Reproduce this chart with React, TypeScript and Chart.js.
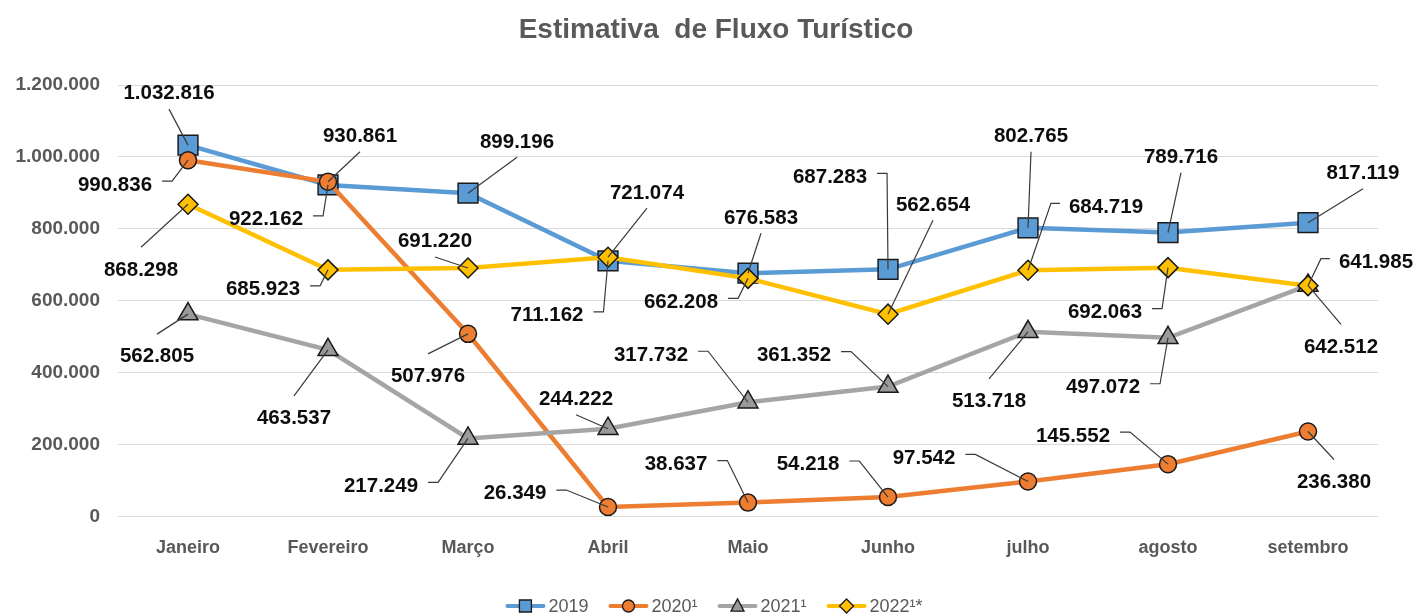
import React, { useEffect, useRef } from 'react';
import { Chart, registerables } from 'chart.js';

Chart.register(...registerables);

// ---------- data ----------
const categories = ['Janeiro', 'Fevereiro', 'Março', 'Abril', 'Maio', 'Junho', 'julho', 'agosto', 'setembro'];
const values2019 = [1032816, 922162, 899196, 711162, 676583, 687283, 802765, 789716, 817119];
const values2020 = [990836, 930861, 507976, 26349, 38637, 54218, 97542, 145552, 236380];
const values2021 = [562805, 463537, 217249, 244222, 317732, 361352, 513718, 497072, 642512];
const values2022 = [868298, 685923, 691220, 721074, 662208, 562654, 684719, 692063, 641985];
const seriesNames = ['2019', '2020¹', '2021¹', '2022¹*'];
const chartTitle = 'Estimativa  de Fluxo Turístico';
const yMin = 0;
const yMax = 1200000;
const yStep = 200000;

// ---------- styles ----------
const lineColors = ['#5B9BD5', '#ED7D31', '#A5A5A5', '#FFC000'];
const markerFills = ['#5B9BD5', '#ED7D31', '#9a9a9a', '#FFC000'];
const markerStyles = ['rect', 'circle', 'triangle', 'rectRot'];
const markerRadii = [14, 8.5, 11.5, 10];
const GRAY_TEXT = '#595959';
const FONT = '"Liberation Sans", Arial, sans-serif';

// label placement: [dx, dy, leader kind] relative to the point (style only)
// kind: 'l' = stub at right of text, 'r' = stub at left of text, 't' = leader from top, 'b' = from bottom
type Place = [number, number, string];
const place2019: Place[] = [[-19, -53, 'b'], [-62, 33, 'l'], [49, -53, 'b'], [-61, 53, 'l'], [13, -57, 'b'], [-58, -94, 'l'], [3, -93, 'b'], [13, -77, 'b'], [55, -51, 'b']];
const place2020: Place[] = [[-73, 23, 'l'], [32, -47, 'b'], [-40, 41, 't'], [-93, -15, 'l'], [-72, -40, 'l'], [-80, -34, 'l'], [-104, -25, 'l'], [-95, -30, 'l'], [26, 49, 't']];
const place2021: Place[] = [[-31, 41, 't'], [-34, 67, 't'], [-87, 46, 'l'], [-32, -31, 'b'], [-97, -49, 'l'], [-94, -33, 'l'], [-39, 68, 't'], [-65, 48, 'l'], [33, 60, 't']];
const place2022: Place[] = [[-47, 64, 't'], [-65, 18, 'l'], [-33, -28, 'b'], [39, -66, 'b'], [-67, 22, 'l'], [45, -111, 'b'], [78, -65, 'r'], [-63, 43, 'l'], [68, -25, 'r']];
const placements = [place2019, place2020, place2021, place2022];

const fmt = (v: number) => String(Math.round(v)).replace(/\B(?=(\d{3})+(?!\d))/g, '.');

function drawMarker(ctx: CanvasRenderingContext2D, style: string, x: number, y: number, s: number) {
  ctx.beginPath();
  if (style === 'rect') {
    ctx.rect(x - s, y - s, 2 * s, 2 * s);
  } else if (style === 'circle') {
    ctx.arc(x, y, s, 0, Math.PI * 2);
  } else if (style === 'triangle') {
    ctx.moveTo(x, y - s * 1.1);
    ctx.lineTo(x + s, y + s * 0.8);
    ctx.lineTo(x - s, y + s * 0.8);
    ctx.closePath();
  } else {
    ctx.moveTo(x, y - s);
    ctx.lineTo(x + s, y);
    ctx.lineTo(x, y + s);
    ctx.lineTo(x - s, y);
    ctx.closePath();
  }
  ctx.fill();
  ctx.stroke();
}

const calloutPlugin = {
  id: 'callouts',
  afterDatasetsDraw(chart: any) {
    const ctx: CanvasRenderingContext2D = chart.ctx;
    ctx.save();
    const size = 20.5;
    ctx.font = `bold ${size}px ${FONT}`;
    ctx.textAlign = 'center';
    ctx.textBaseline = 'alphabetic';
    chart.data.datasets.forEach((ds: any, i: number) => {
      const meta = chart.getDatasetMeta(i);
      meta.data.forEach((pt: any, j: number) => {
        const [dx, dy, kind] = placements[i][j];
        const px = pt.x;
        const py = pt.y;
        const cx = px + dx;
        const cy = py + dy;
        const text = fmt(ds.data[j]);
        const w = ctx.measureText(text).width;
        ctx.strokeStyle = '#3a3a3a';
        ctx.lineWidth = 1.2;
        ctx.beginPath();
        if (kind === 'l') {
          const sx = cx + w / 2 + 10;
          ctx.moveTo(sx, cy - 2);
          ctx.lineTo(sx + 10, cy - 2);
          ctx.lineTo(px, py);
        } else if (kind === 'r') {
          const sx = cx - w / 2 - 9;
          ctx.moveTo(sx, cy - 2);
          ctx.lineTo(sx - 9, cy - 2);
          ctx.lineTo(px, py);
        } else if (kind === 't') {
          ctx.moveTo(cx, cy - 21);
          ctx.lineTo(px, py);
        } else if (kind === 'b') {
          ctx.moveTo(cx, cy + 17);
          ctx.lineTo(px, py);
        }
        ctx.stroke();
        ctx.fillStyle = '#0d0d0d';
        ctx.fillText(text, cx, cy + 0.358 * size);
      });
    });
    ctx.restore();
  },
};

const decorPlugin = {
  id: 'decor',
  afterDraw(chart: any) {
    const ctx: CanvasRenderingContext2D = chart.ctx;
    ctx.save();
    // title
    const tSize = 28;
    ctx.font = `bold ${tSize}px ${FONT}`;
    ctx.fillStyle = GRAY_TEXT;
    ctx.textAlign = 'center';
    ctx.textBaseline = 'alphabetic';
    ctx.fillText(chartTitle, 716, 28 + 0.358 * tSize);

    // legend
    const lSize = 18;
    ctx.font = `${lSize}px ${FONT}`;
    const lineLen = 40;
    const gapText = 3;
    const gapItem = 20;
    const widths = seriesNames.map((n) => ctx.measureText(n).width);
    const total = widths.reduce((a, w) => a + lineLen + gapText + w, 0) + gapItem * (seriesNames.length - 1);
    let x = 714 - total / 2;
    const y = 606;
    const mSizes = [6, 6, 6.5, 7];
    seriesNames.forEach((name, i) => {
      ctx.strokeStyle = lineColors[i];
      ctx.lineWidth = 4;
      ctx.lineCap = 'round';
      ctx.beginPath();
      ctx.moveTo(x + 2, y);
      ctx.lineTo(x + lineLen - 2, y);
      ctx.stroke();
      ctx.lineCap = 'butt';
      ctx.fillStyle = markerFills[i];
      ctx.strokeStyle = '#1a1a1a';
      ctx.lineWidth = 1.3;
      drawMarker(ctx, markerStyles[i], x + lineLen / 2, y, mSizes[i]);
      ctx.fillStyle = GRAY_TEXT;
      ctx.textAlign = 'left';
      ctx.fillText(name, x + lineLen + gapText, y + 0.358 * lSize);
      x += lineLen + gapText + widths[i] + gapItem;
    });
    ctx.restore();
  },
};

export default function App() {
  const canvasRef = useRef<HTMLCanvasElement | null>(null);

  useEffect(() => {
    document.body.style.margin = '0';
    const canvas = canvasRef.current;
    if (!canvas) return;
    const seriesValues = [values2019, values2020, values2021, values2022];
    const chart = new Chart(canvas, {
      type: 'line',
      data: {
        labels: categories,
        datasets: seriesValues.map((vals, i) => ({
          label: seriesNames[i],
          data: vals,
          borderColor: lineColors[i],
          backgroundColor: markerFills[i],
          borderWidth: 4.5,
          tension: 0,
          pointStyle: markerStyles[i] as any,
          pointRadius: markerRadii[i],
          pointBackgroundColor: markerFills[i],
          pointBorderColor: '#1a1a1a',
          pointBorderWidth: 1.5,
          order: 4 - i,
          fill: false,
        })),
      },
      options: {
        responsive: false,
        animation: false,
        events: [],
        layout: { padding: { top: 85, right: 38, bottom: 0, left: 0 } },
        plugins: {
          legend: { display: false },
          title: { display: false },
          tooltip: { enabled: false },
        },
        scales: {
          x: {
            type: 'category',
            offset: true,
            grid: { display: false, drawTicks: false },
            border: { display: false },
            ticks: {
              color: GRAY_TEXT,
              font: { family: FONT, size: 18, weight: 'bold' },
              padding: 21,
              maxRotation: 0,
              autoSkip: false,
            },
            afterFit: (s: any) => {
              s.height = 99.5;
            },
          },
          y: {
            min: yMin,
            max: yMax,
            ticks: {
              stepSize: yStep,
              color: GRAY_TEXT,
              font: { family: FONT, size: 19, weight: 'bold' },
              padding: 18,
              callback: (v: any) => fmt(Number(v)),
            },
            grid: { color: '#d9d9d9', lineWidth: 1, drawTicks: false },
            border: { display: false },
            afterFit: (s: any) => {
              s.width = 118;
            },
          },
        },
      },
      plugins: [calloutPlugin, decorPlugin],
    });
    return () => chart.destroy();
  }, []);

  return (
    <div style={{ width: 1416, height: 616, background: '#ffffff' }}>
      <canvas ref={canvasRef} width={1416} height={616} style={{ display: 'block' }} />
    </div>
  );
}
